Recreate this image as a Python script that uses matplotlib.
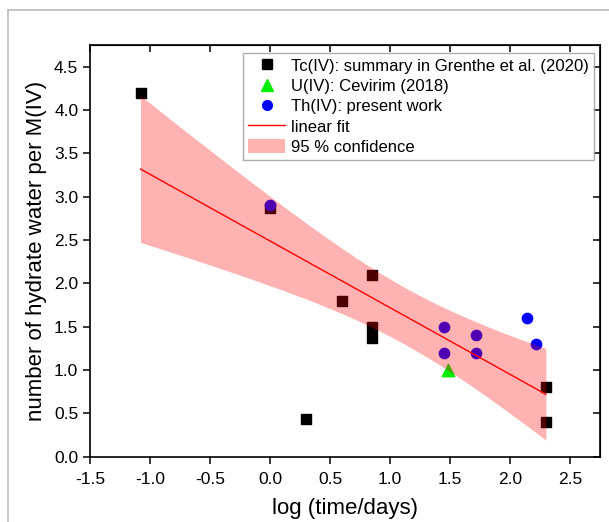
import numpy as np
import matplotlib.pyplot as plt
from matplotlib.lines import Line2D

plt.rcParams['font.family'] = ['Liberation Sans', 'DejaVu Sans']

# Tc(IV): summary in Grenthe et al. (2020)
tc_x = [-1.08, 0.0, 0.3, 0.6, 0.85, 0.85, 0.85, 2.3, 2.3]
tc_y = [4.2, 2.87, 0.44, 1.8, 2.1, 1.5, 1.37, 0.8, 0.4]
# U(IV): Cevirim (2018)
u_x = [1.48]
u_y = [1.0]
# Th(IV): present work
th_x = [0.0, 1.45, 1.45, 1.72, 1.72, 2.14, 2.22]
th_y = [2.9, 1.5, 1.2, 1.4, 1.2, 1.6, 1.3]

# linear fit on all data + 95 % confidence band of the mean
x_all = np.array(tc_x + u_x + th_x)
y_all = np.array(tc_y + u_y + th_y)
n = len(x_all)
slope, icpt = np.polyfit(x_all, y_all, 1)
resid = y_all - (slope * x_all + icpt)
s = np.sqrt(np.sum(resid ** 2) / (n - 2))
sxx = np.sum((x_all - x_all.mean()) ** 2)
t95 = 2.131  # t(0.975, 15)
xf = np.linspace(x_all.min(), x_all.max(), 200)
yf = slope * xf + icpt
half = t95 * s * np.sqrt(1.0 / n + (xf - x_all.mean()) ** 2 / sxx)

fig = plt.figure(figsize=(6.09, 5.22), dpi=100)
ax = fig.add_axes([0.148, 0.125, 0.837, 0.789])

ax.scatter(tc_x, tc_y, marker='s', s=42, c='black', zorder=2)
ax.scatter(u_x, u_y, marker='^', s=80, c='#00ee00', zorder=2)
ax.scatter(th_x, th_y, marker='o', s=55, c='blue', zorder=2)
ax.fill_between(xf, yf - half, yf + half, color='red', alpha=0.3, lw=0, zorder=3)
ax.plot(xf, yf, color='red', lw=1.0, zorder=4)

ax.set_xlim(-1.5, 2.75)
ax.set_ylim(0, 4.75)
ax.set_xticks(np.arange(-1.5, 2.51, 0.5))
ax.set_yticks(np.arange(0, 4.51, 0.5))
ax.xaxis.set_major_formatter(plt.FormatStrFormatter('%.1f'))
ax.yaxis.set_major_formatter(plt.FormatStrFormatter('%.1f'))
ax.tick_params(direction='out', length=5, width=1.1, labelsize=12.5)
ax.tick_params(axis='x', pad=6)
for sp in ax.spines.values():
    sp.set_linewidth(1.2)

top = ax.secondary_xaxis('top')
top.set_xticks(np.arange(-1.5, 2.51, 0.5))
top.tick_params(direction='in', length=5, width=1.1, labeltop=False)
right = ax.secondary_yaxis('right')
right.set_yticks(np.arange(0, 4.51, 0.5))
right.tick_params(direction='in', length=5, width=1.1, labelright=False)

ax.set_xlabel('log (time/days)', fontsize=16, labelpad=8)
ax.set_ylabel('number of hydrate water per M(IV)', fontsize=16, labelpad=5)

handles = [
    Line2D([], [], marker='s', ls='', color='black', markersize=6.5),
    Line2D([], [], marker='^', ls='', color='#00ee00', markersize=8.5),
    Line2D([], [], marker='o', ls='', color='blue', markersize=7),
    Line2D([], [], color='red', lw=1.0),
    plt.Rectangle((0, 0), 1, 1, fc='red', alpha=0.3, lw=0),
]
labels = ['Tc(IV): summary in Grenthe et al. (2020)', 'U(IV): Cevirim (2018)',
          'Th(IV): present work', 'linear fit', '95 % confidence']
leg = ax.legend(handles, labels, loc='upper right', bbox_to_anchor=(0.988, 0.98),
                fontsize=12, frameon=True, fancybox=False, handlelength=2.2,
                handletextpad=0.35, labelspacing=0.28, borderpad=0.3, borderaxespad=0,
                handleheight=0.9)
leg.get_frame().set_edgecolor('#999999')
leg.get_frame().set_linewidth(1.0)

# gray frame lines of the cropped panel
fig.add_artist(Line2D([8 / 609, 1], [1 - 10 / 522] * 2, color='#bbbbbb', lw=1.2))
fig.add_artist(Line2D([8 / 609] * 2, [0, 1 - 10 / 522], color='#bbbbbb', lw=1.2))

fig.savefig('out.png', dpi=100)
